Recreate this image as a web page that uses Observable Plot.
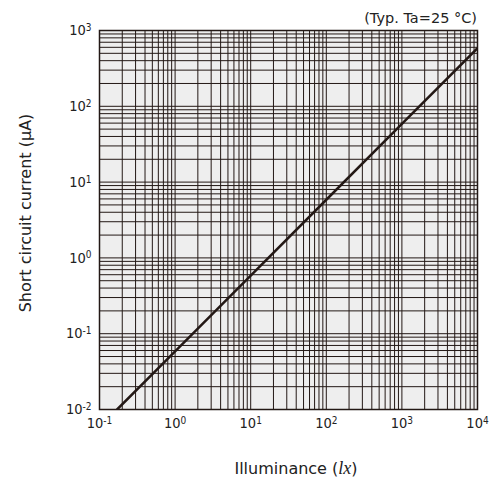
<!DOCTYPE html>
<html><head><meta charset="utf-8">
<script src="https://cdn.jsdelivr.net/npm/d3@7"></script>
<script src="https://cdn.jsdelivr.net/npm/@observablehq/plot@0.6"></script>
<style>body{margin:0;background:#fff}</style>
</head><body><div id="chart"></div>
<script>
// Data
const illuminance = [0.171, 1, 10, 100, 1000, 10000];
const current = [0.01, 0.0585, 0.585, 5.85, 58.5, 585];
const xTicks = [0.1, 1, 10, 100, 1000, 10000];
const xTickExponents = ["-1", "0", "1", "2", "3", "4"];
const yTicks = [0.01, 0.1, 1, 10, 100, 1000];
const yTickExponents = ["-2", "-1", "0", "1", "2", "3"];
const tickBase = "10";
const gridSteps = [1, 2, 3, 4, 5, 6, 7, 8, 9];
const xLabelMain = "Illuminance (";
const xLabelUnit = "lx";
const yLabel = "Short circuit current (μA)";
const note = "(Typ. Ta=25 °C)";

const data = illuminance.map((x, i) => ({x, y: current[i]}));
const gridX = xTicks.slice(0, -1).flatMap(d => gridSteps.map(m => m * d)).concat([xTicks[xTicks.length - 1]]);
const gridY = yTicks.slice(0, -1).flatMap(d => gridSteps.map(m => m * d)).concat([yTicks[yTicks.length - 1]]);
const xFmt = new Map(xTicks.map((t, i) => [t, tickBase + "|" + xTickExponents[i]]));
const yFmt = new Map(yTicks.map((t, i) => [t, tickBase + "|" + yTickExponents[i]]));

const ink = "#231815";
const textInk = "#222";
const W = 491, H = 482, ML = 99, MR = 14, MT = 30, MB = 73;
const tickFont = "Liberation Sans Narrow, DejaVu Sans Condensed, sans-serif";

const chart = Plot.plot({
  width: W, height: H,
  marginLeft: ML, marginRight: MR, marginTop: MT, marginBottom: MB,
  style: {fontFamily: "DejaVu Sans", fontSize: "14px", color: textInk, background: "#fff"},
  x: {type: "log", domain: [0.1, 10000]},
  y: {type: "log", domain: [0.01, 1000]},
  marks: [
    Plot.frame({fill: "#eeeeee"}),
    Plot.ruleX(gridX, {stroke: ink, strokeWidth: 1}),
    Plot.ruleY(gridY, {stroke: ink, strokeWidth: 1}),
    Plot.line(data, {x: "x", y: "y", stroke: ink, strokeWidth: 2.5, clip: true}),
    Plot.frame({stroke: ink, strokeWidth: 1.5}),
    Plot.axisX(xTicks, {tickSize: 0, tickPadding: 8, tickFormat: d => xFmt.get(d), label: null, fontSize: 14.5, fontFamily: tickFont}),
    Plot.axisY(yTicks, {tickSize: 0, tickPadding: 8, tickFormat: d => yFmt.get(d), label: null, fontSize: 14.5, fontFamily: tickFont})
  ]
});

const svg = d3.select(chart);
// turn "10|e" tick labels into 10 with a superscript exponent
svg.selectAll("text").each(function () {
  const t = this.textContent;
  if (!t.includes("|")) return;
  const [base, exp] = t.split("|");
  const el = d3.select(this);
  el.text(null);
  el.append("tspan").text(base);
  el.append("tspan").attr("font-size", 10).attr("dy", "-0.42em").text(exp);
});

const xl = svg.append("text")
  .attr("x", 296).attr("y", 474)
  .attr("text-anchor", "middle")
  .attr("font-family", "DejaVu Sans").attr("font-size", 16).attr("fill", textInk);
xl.append("tspan").text(xLabelMain);
xl.append("tspan").attr("font-family", "Liberation Serif").attr("font-style", "italic").attr("font-size", 18).text(xLabelUnit);
xl.append("tspan").text(")");

svg.append("text")
  .attr("transform", `translate(31,213) rotate(-90)`)
  .attr("text-anchor", "middle")
  .attr("font-family", "DejaVu Sans").attr("font-size", 16).attr("fill", textInk)
  .text(yLabel);

svg.append("text")
  .attr("x", W - MR).attr("y", 23)
  .attr("text-anchor", "end")
  .attr("font-family", "DejaVu Sans").attr("font-size", 14.5).attr("fill", textInk)
  .text(note);

document.getElementById("chart").appendChild(chart);
</script>
</body></html>
